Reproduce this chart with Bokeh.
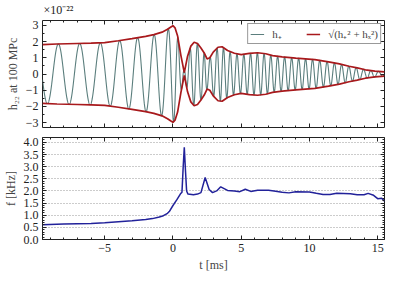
import numpy as np
from bokeh.plotting import figure
from bokeh.layouts import column
from bokeh.models import (Range1d, LinearAxis, SingleIntervalTicker, CustomJSTickFormatter,
                          Legend, LegendItem, CustomLabelingPolicy)
from bokeh.embed import file_html
from bokeh.resources import INLINE

# ---- data ----
# amplitude envelope sqrt(h+^2 + hx^2), units of 1e-22
amp_t = [-9.56, -8.5, -7.0, -6.0, -5.0, -4.0, -3.0, -2.0, -1.4, -0.8, -0.4, -0.15, 0.0, 0.15,
         0.34, 0.58, 0.83, 1.07, 1.31, 1.55, 1.8, 2.05, 2.29, 2.5, 2.7, 2.95, 3.3, 3.6, 4.0,
         4.5, 5.0, 5.6, 6.2, 6.8, 7.3, 8.0, 9.0, 10.4, 11.4, 12.2, 12.9, 13.5, 14.1, 14.8, 15.5]
amp_v = [1.81, 1.85, 1.88, 1.90, 1.93, 2.05, 2.18, 2.32, 2.43, 2.58, 2.76, 2.90, 2.98, 2.85,
         2.35, 1.15, 0.08, 1.10, 1.72, 1.96, 1.88, 1.60, 1.30, 0.93, 1.00, 1.35, 1.65, 1.68, 1.45,
         1.28, 1.20, 1.27, 1.31, 1.25, 1.13, 1.06, 0.98, 0.89, 0.75, 0.62, 0.48, 0.38, 0.26, 0.18, 0.13]

# instantaneous GW frequency [kHz]
freq_t = [-9.56, -8.0, -6.0, -5.0, -4.0, -3.0, -2.0, -1.5, -1.0, -0.7, -0.4, -0.27, 0.0, 0.3,
          0.55, 0.66, 0.75, 0.83, 0.92, 1.0, 1.1, 1.5, 1.8, 2.05, 2.36, 2.65, 2.9, 3.2, 3.5,
          4.0, 4.5, 4.9, 5.3, 5.7, 6.2, 7.0, 7.4, 8.0, 8.5, 9.0, 10.0, 10.5, 11.0, 11.5, 12.0,
          13.0, 13.5, 14.0, 14.3, 14.7, 15.0, 15.3, 15.5]
freq_v = [0.61, 0.635, 0.66, 0.69, 0.73, 0.77, 0.82, 0.86, 0.93, 0.98, 1.08, 1.15, 1.40, 1.65,
          1.88, 1.95, 3.00, 3.80, 2.80, 2.00, 1.87, 1.84, 1.87, 1.93, 2.55, 2.06, 1.93, 2.00, 2.17,
          2.02, 2.00, 1.97, 2.07, 1.98, 2.03, 2.03, 2.00, 1.95, 1.92, 1.97, 1.96, 1.90, 1.85, 1.85,
          1.90, 1.88, 1.84, 1.84, 1.90, 1.82, 1.68, 1.70, 1.58]

t_range = (-9.56, 15.5)
h_range = (-3.3, 3.3)
f_range = (0.0, 4.2)
t_min_h = 0.05   # time of the h+ minimum at the amplitude peak

# h+ derived from the read amplitude and frequency: A(t) cos(2*pi*int f dt)
t = np.linspace(t_range[0], t_range[1], 6000)
f_d = np.interp(t, freq_t, freq_v)
cyc = np.concatenate([[0.0], np.cumsum(0.5 * (f_d[1:] + f_d[:-1]) * np.diff(t))])
cyc = cyc - np.interp(t_min_h, t, cyc) + 0.5
h_plus = np.interp(t, amp_t, amp_v) * np.cos(2 * np.pi * cyc)

FONT = "Liberation Serif"
FS = "12px"
C_H = "#5b7e7d"
C_A = "#a8191c"
C_F = "#22229a"

def fmt(dec):
    return CustomJSTickFormatter(code="""
        var s = Math.abs(tick).toFixed(%d);
        return (tick < -1e-9 ? '\\u2212' : '') + s;""" % dec)

NOLABELS = CustomLabelingPolicy(code="return new Set()")

def style_axis(ax, ticker, labels=True, dec=0):
    ax.ticker = ticker
    ax.formatter = fmt(dec)
    ax.major_tick_in = 4
    ax.major_tick_out = 0
    ax.minor_tick_in = 2
    ax.minor_tick_out = 0
    ax.axis_line_color = None
    ax.major_tick_line_color = "#222222"
    ax.minor_tick_line_color = "#222222"
    ax.major_label_text_font = FONT
    ax.major_label_text_color = "#222222"
    if labels:
        ax.major_label_text_font_size = FS
        ax.major_label_standoff = 4
    else:
        ax.major_label_text_font_size = "1px"
        ax.major_label_standoff = 0
        ax.major_label_policy = NOLABELS
    ax.axis_label_text_font = FONT
    ax.axis_label_text_font_size = FS
    ax.axis_label_text_font_style = "normal"
    ax.axis_label_standoff = 3

def make_fig(h, yr, top, bottom):
    p = figure(width=393, height=h, x_range=Range1d(*t_range), y_range=Range1d(*yr),
               output_backend="svg", toolbar_location=None,
               min_border_left=41, min_border_right=9, min_border_top=top, min_border_bottom=bottom)
    p.outline_line_color = "#222222"
    p.outline_line_width = 1
    p.xgrid.visible = False
    p.ygrid.visible = False
    return p

# ---- top panel ----
p1 = make_fig(132, h_range, 20, 5)
r_hp = p1.line(t, h_plus, color=C_H, line_width=1.1)
r_up = p1.line(amp_t, amp_v, color=C_A, line_width=1.7)
p1.line(amp_t, [-v for v in amp_v], color=C_A, line_width=1.7)
style_axis(p1.xaxis[0], SingleIntervalTicker(interval=5, num_minor_ticks=5), labels=False)
style_axis(p1.yaxis[0], SingleIntervalTicker(interval=1, num_minor_ticks=2))
p1.yaxis[0].axis_label = "h\u2082\u2082 at 100 MPc"
ax = LinearAxis(); style_axis(ax, SingleIntervalTicker(interval=1, num_minor_ticks=2), labels=False)
p1.add_layout(ax, "right")
ax = LinearAxis(); style_axis(ax, SingleIntervalTicker(interval=5, num_minor_ticks=5), labels=False)
p1.add_layout(ax, "above")
p1.title.text = "\u00d710\u207b\u00b2\u00b2"
p1.title.align = "left"
p1.title.text_font = FONT
p1.title.text_font_size = "12px"
p1.title.text_font_style = "normal"
p1.title.text_color = "#222222"
p1.title.offset = 1
p1.title.standoff = 0

leg = Legend(items=[LegendItem(label="h\u208a", renderers=[r_hp]),
                    LegendItem(label="\u221a(h\u208a\u00b2 + h\u2093\u00b2)", renderers=[r_up])],
             orientation="horizontal", location="top_right",
             label_text_font=FONT, label_text_font_size="11px", label_text_line_height=1.0,
             border_line_color="#333333", border_line_width=1,
             glyph_width=14, glyph_height=8, label_height=8, padding=2,
             spacing=14, margin=3, label_standoff=8)
p1.add_layout(leg)

# ---- bottom panel ----
p2 = make_fig(142, f_range, 5, 30)
p2.line(freq_t, freq_v, color=C_F, line_width=1.5)
style_axis(p2.xaxis[0], SingleIntervalTicker(interval=5, num_minor_ticks=5))
style_axis(p2.yaxis[0], SingleIntervalTicker(interval=0.5, num_minor_ticks=5), dec=1)
p2.xaxis[0].axis_label = "t [ms]"
p2.yaxis[0].axis_label = "f [kHz]"
p2.ygrid.visible = True
p2.ygrid.ticker = SingleIntervalTicker(interval=0.5)
p2.ygrid.grid_line_color = "#999999"
p2.ygrid.grid_line_dash = "1 2"
p2.ygrid.grid_line_width = 1
ax = LinearAxis(); style_axis(ax, SingleIntervalTicker(interval=0.5, num_minor_ticks=5), labels=False)
p2.add_layout(ax, "right")
ax = LinearAxis(); style_axis(ax, SingleIntervalTicker(interval=5, num_minor_ticks=5), labels=False)
p2.add_layout(ax, "above")

layout = column(p1, p2, spacing=0)
open("out.html", "w").write(file_html(layout, INLINE))
